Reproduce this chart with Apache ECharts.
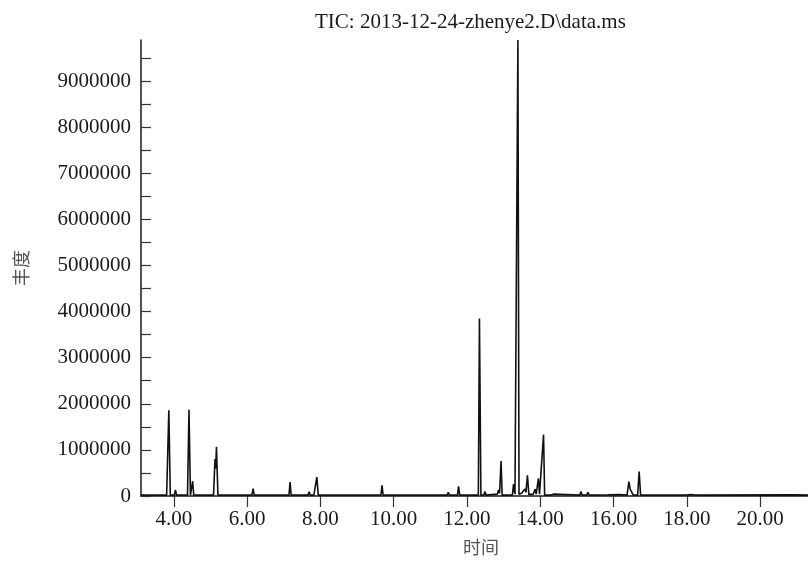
<!DOCTYPE html>
<html>
<head>
<meta charset="utf-8">
<script src="https://cdn.jsdelivr.net/npm/echarts@6/dist/echarts.min.js"></script>
<style>html,body{margin:0;padding:0;background:#fff;overflow:hidden}#c{width:808px;height:561px}</style>
</head>
<body>
<div id="c"></div>
<script>
// Retention time (min) of every traced point
const times = [
  3.10, 3.80, 3.86, 3.90, 4.01, 4.04, 4.07, 4.37, 4.41, 4.45, 4.49, 4.51, 4.54,
  4.83, 4.86, 4.89, 5.08, 5.12, 5.14, 5.16, 5.20, 5.40, 5.42, 5.44, 5.62, 5.64, 5.66,
  6.13, 6.16, 6.19, 7.14, 7.17, 7.20, 7.47, 7.49, 7.51, 7.66, 7.69, 7.72, 7.82, 7.85,
  7.87, 7.90, 7.94, 9.65, 9.68, 9.71, 10.67, 10.69, 10.71, 11.46, 11.49, 11.52,
  11.74, 11.77, 11.80, 12.08, 12.11, 12.14, 12.31, 12.34, 12.38, 12.46, 12.49, 12.52,
  12.83, 12.86, 12.89, 12.93, 12.96, 13.24, 13.27, 13.31, 13.36, 13.39, 13.42, 13.49,
  13.53, 13.58, 13.61, 13.65, 13.69, 13.73, 13.81, 13.86, 13.89, 13.95, 13.98, 14.03,
  14.09, 14.12, 14.24, 14.27, 14.30, 14.36, 14.39, 15.08, 15.11, 15.14, 15.27, 15.30,
  15.33, 15.86, 16.16, 16.37, 16.42, 16.46, 16.50, 16.54, 16.66, 16.70, 16.74, 17.98,
  18.10, 18.23, 20.97, 21.31
];
// Abundance of every traced point
const abundance = [
  20000, 20000, 1860000, 20000, 20000, 130000, 20000, 20000, 1870000, 20000, 20000, 320000, 20000,
  20000, 60000, 20000, 20000, 800000, 600000, 1070000, 20000, 20000, 50000, 20000, 20000, 40000, 20000,
  20000, 160000, 20000, 20000, 300000, 20000, 20000, 40000, 20000, 20000, 90000, 20000, 20000, 50000,
  60000, 410000, 20000, 20000, 230000, 20000, 20000, 30000, 20000, 20000, 80000, 20000,
  20000, 210000, 20000, 20000, 40000, 20000, 20000, 3850000, 20000, 20000, 100000, 20000,
  40000, 130000, 60000, 760000, 20000, 20000, 260000, 40000, 40000, 9890000, 40000, 60000,
  40000, 150000, 80000, 450000, 30000, 30000, 40000, 150000, 40000, 380000, 40000, 30000,
  1330000, 20000, 20000, 30000, 20000, 40000, 20000, 20000, 100000, 20000, 20000, 80000,
  20000, 25000, 30000, 20000, 310000, 140000, 120000, 20000, 20000, 530000, 20000, 20000,
  30000, 20000, 25000, 20000
];
const xTickValues = [4, 6, 8, 10, 12, 14, 16, 18, 20];
const yLabelValues = [0, 1000000, 2000000, 3000000, 4000000, 5000000, 6000000, 7000000, 8000000, 9000000];
const yTickValues = [0, 500000, 1000000, 1500000, 2000000, 2500000, 3000000, 3500000, 4000000, 4500000,
  5000000, 5500000, 6000000, 6500000, 7000000, 7500000, 8000000, 8500000, 9000000, 9500000];
const titleText = 'TIC: 2013-12-24-zhenye2.D\\data.ms';

const serif = '"Liberation Serif", "Times New Roman", serif';
const chart = echarts.init(document.getElementById('c'), null, {renderer: 'canvas'});
chart.setOption({
  animation: false,
  backgroundColor: '#ffffff',
  title: {
    text: titleText, left: 315, top: 12, padding: 0,
    textStyle: {fontFamily: serif, fontSize: 21, fontWeight: 'normal', color: '#1a1a1a'}
  },
  grid: {left: 141, right: 0, top: 40, bottom: 59, containLabel: false},
  xAxis: {
    type: 'value', min: 3.10, max: 21.31,
    name: '时间', nameLocation: 'middle', nameGap: 42,
    nameTextStyle: {fontFamily: '"Noto Sans CJK SC"', fontSize: 18, color: '#555', padding: [0, 0, 0, 13]},
    axisLine: {show: true, lineStyle: {color: '#1a1a1a', width: 1.5}},
    axisTick: {show: true, inside: false, length: 11, customValues: xTickValues, lineStyle: {color: '#333', width: 1.2}},
    axisLabel: {customValues: xTickValues, margin: 13, fontFamily: serif, fontSize: 21, color: '#1a1a1a',
      formatter: v => v.toFixed(2)},
    splitLine: {show: false}
  },
  yAxis: {
    type: 'value', min: 0, max: 9890000,
    name: '丰度', nameLocation: 'middle', nameGap: 111, nameRotate: 90,
    nameTextStyle: {fontFamily: '"Noto Sans CJK SC"', fontSize: 18, color: '#555'},
    axisLine: {show: true, lineStyle: {color: '#1a1a1a', width: 1.5}},
    axisTick: {show: true, inside: true, length: 10, customValues: yTickValues, lineStyle: {color: '#333', width: 1.2}},
    axisLabel: {customValues: yLabelValues, margin: 10, fontFamily: serif, fontSize: 21, color: '#1a1a1a',
      formatter: v => String(v)},
    splitLine: {show: false}
  },
  series: [{
    type: 'line',
    data: times.map((t, i) => [t, abundance[i]]),
    showSymbol: false,
    clip: true,
    lineStyle: {color: '#111', width: 1.6},
    z: 3
  }]
});
</script>
</body>
</html>
